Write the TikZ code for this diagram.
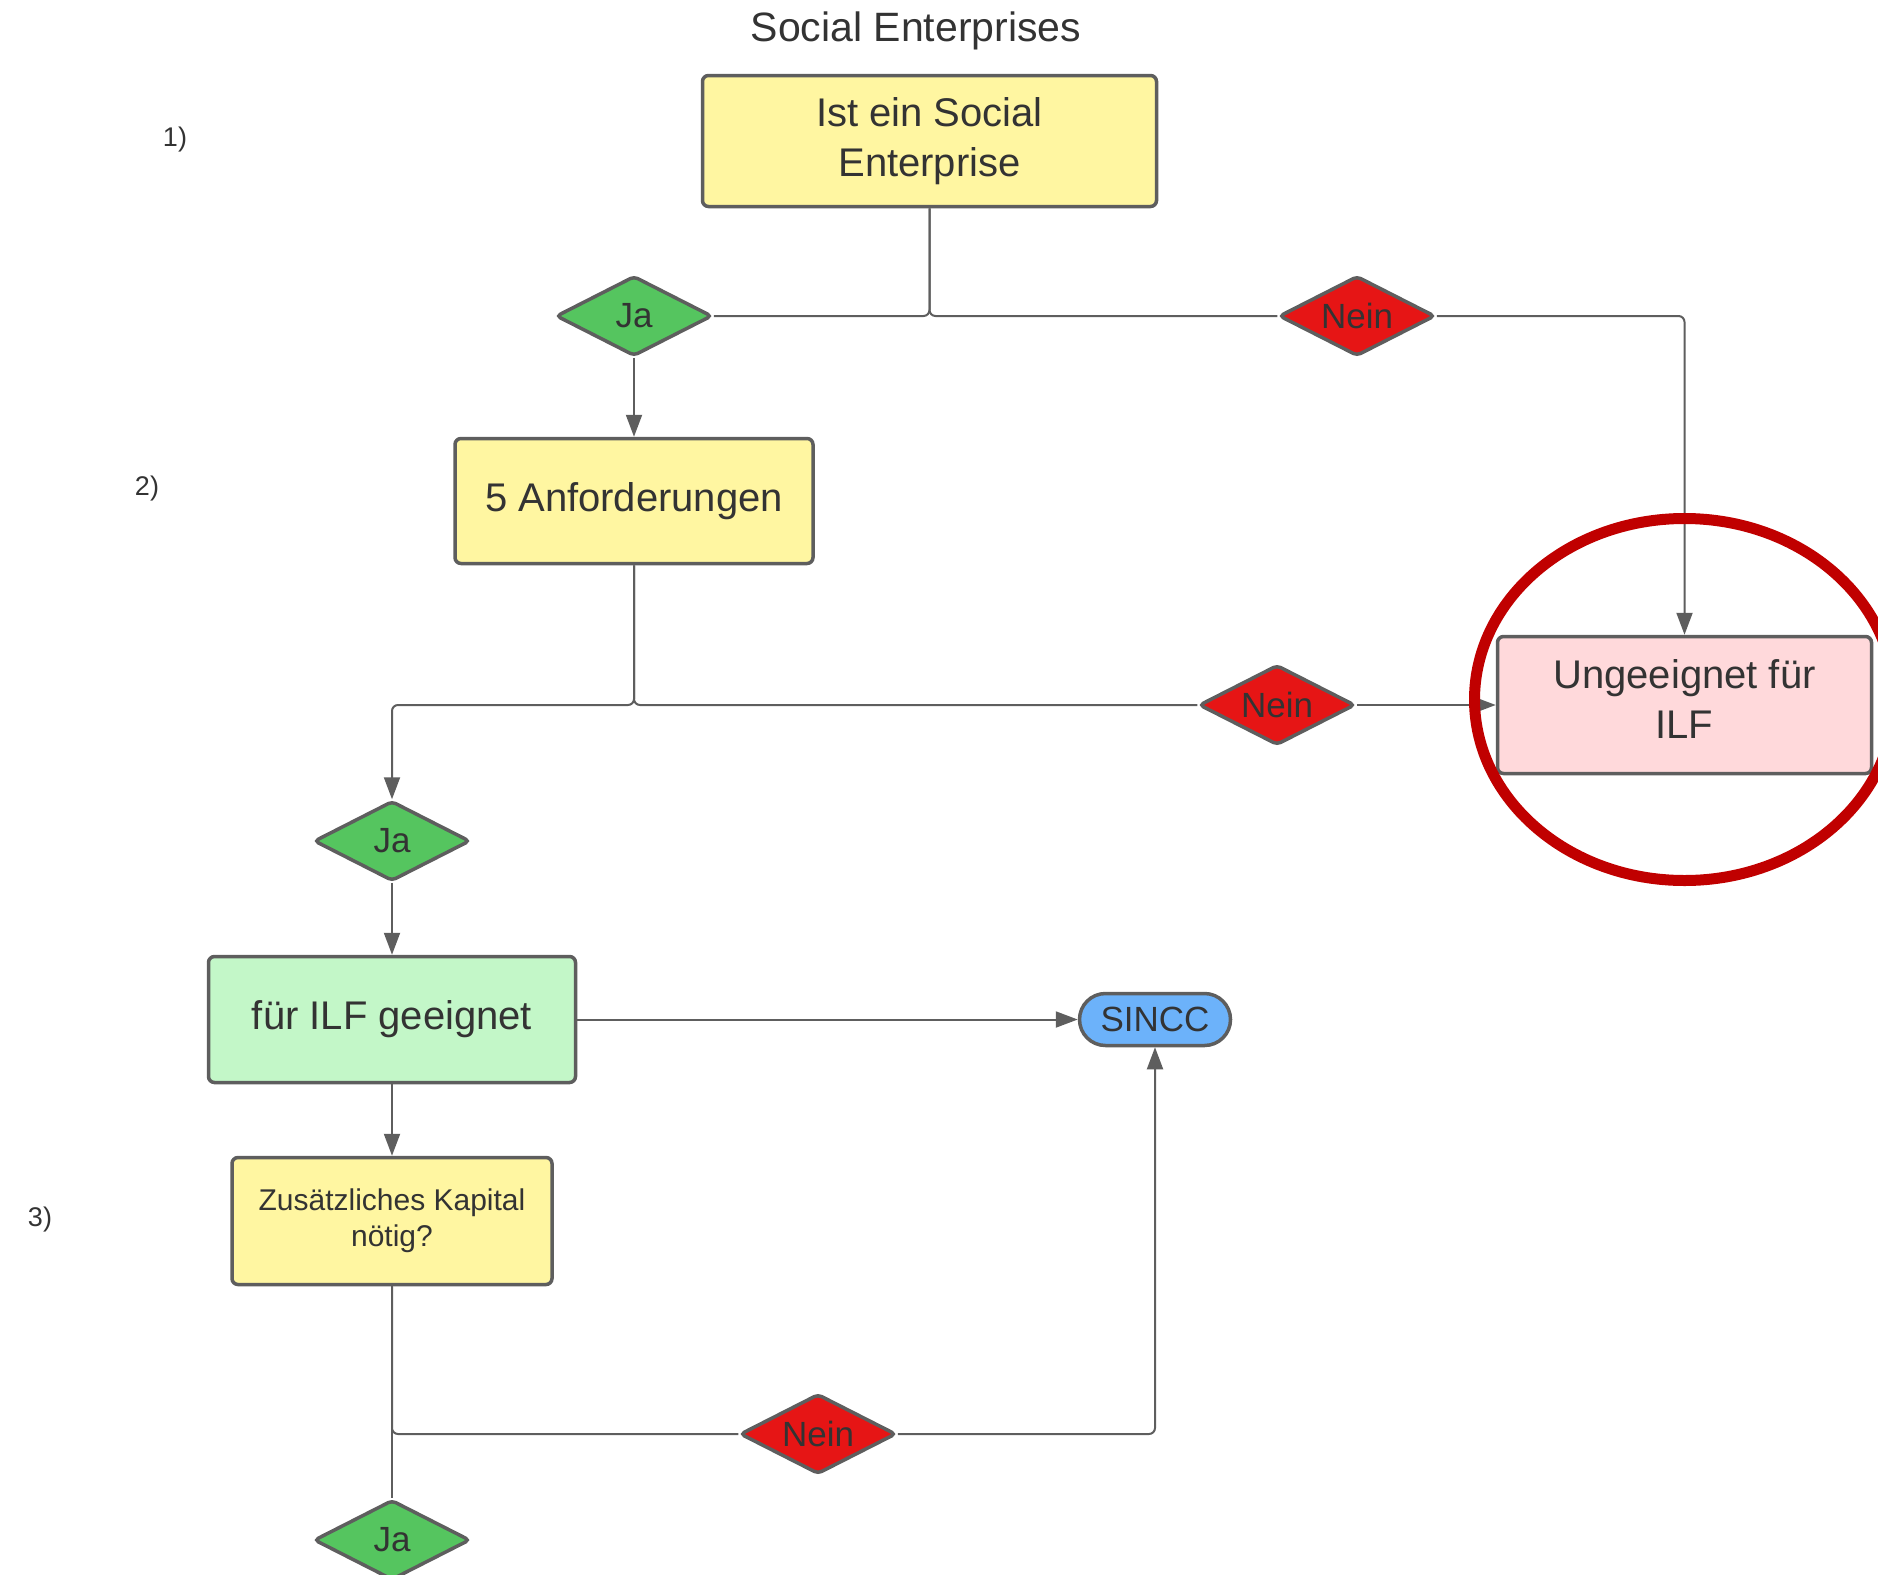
\documentclass[tikz,border=0pt]{standalone}
\usepackage{fontspec}
\setmainfont{Liberation Sans}
\usetikzlibrary{shapes.geometric,arrows.meta}
\definecolor{ln}{HTML}{5E5E5E}
\definecolor{txt}{HTML}{333333}
\definecolor{yel}{HTML}{FFF6A1}
\definecolor{grn}{HTML}{55C55F}
\definecolor{rd}{HTML}{E61515}
\definecolor{lgrn}{HTML}{C3F7C8}
\definecolor{pnk}{HTML}{FFD9DB}
\definecolor{blu}{HTML}{6CB2FA}
\definecolor{circ}{HTML}{C00000}
\begin{document}
\begin{tikzpicture}[x=1pt,y=-1pt,
  box/.style={draw=ln, line width=3.5pt, rounded corners=6pt, text=txt, align=center, inner sep=0pt},
  dia/.style={diamond, draw=ln, line width=3.5pt, rounded corners=4pt, minimum width=156pt, minimum height=80pt, inner sep=0pt, aspect=2, text=txt, font=\fontsize{35}{40}\selectfont},
  con/.style={draw=ln, line width=2pt, rounded corners=6pt},
  arr/.style={con, -{Triangle[length=22pt,width=16pt]}},
  big/.style={font=\fontsize{40}{50}\selectfont},
  lbl/.style={text=txt, font=\fontsize{27}{30}\selectfont}
]
\useasboundingbox (0,0) rectangle (1878,1574);
\clip (0,0) rectangle (1878,1574);

\node[text=txt, font=\fontsize{41}{48}\selectfont] (title) at (916,31) {Social Enterprises};
\node[lbl] (l1) at (175,140) {1)};
\node[lbl] (l2) at (147,489) {2)};
\node[lbl] (l3) at (40,1219) {3)};

\node[box, big, fill=yel, minimum width=454pt, minimum height=131pt] (b1) at (929.5,141) {Ist ein Social\\Enterprise};
\node[dia, fill=grn] (ja1) at (634,316) {Ja};
\node[dia, fill=rd] (n1) at (1357,316) {Nein};
\node[box, big, fill=yel, minimum width=358pt, minimum height=125pt] (b2) at (634,501) {5 Anforderungen};
\node[box, big, fill=pnk, minimum width=374pt, minimum height=137pt] (ung) at (1684.5,705) {Ungeeignet für\\ILF\rule[-12pt]{0pt}{0pt}};
\node[dia, fill=rd] (n2) at (1277,705) {Nein};
\node[dia, fill=grn] (ja2) at (392,841) {Ja};
\node[box, big, fill=lgrn, minimum width=367pt, minimum height=126pt] (b3) at (392,1019.5) {für ILF geeignet};
\node[box, fill=blu, rounded corners=26pt, minimum width=151pt, minimum height=52pt, font=\fontsize{35}{40}\selectfont] (sincc) at (1155,1019.5) {SINCC};
\node[box, fill=yel, minimum width=320pt, minimum height=127pt, font=\fontsize{30}{36}\selectfont] (b4) at (392,1221) {Zusätzliches Kapital\\nötig?};
\node[dia, fill=rd] (n3) at (818,1434) {Nein};
\node[dia, fill=grn] (ja3) at (392,1540) {Ja};

\draw[con] (b1.south) |- (ja1.east);
\draw[con] (b1.south) |- (n1.west);
\draw[arr] (n1.east) -| (ung.north);
\draw[arr] (ja1.south) -- (b2.north);
\draw[con] (b2.south) |- (n2.west);
\draw[arr] (b2.south) |- (ja2.north |- n2.west) -- (ja2.north);
\draw[arr] (n2.east) -- (ung.west);
\draw[arr] (ja2.south) -- (b3.north);
\draw[arr] (b3.east) -- (sincc.west);
\draw[arr] (b3.south) -- (b4.north);
\draw[con] (b4.south) -- (ja3.north);
\draw[con] (b4.south) |- (n3.west);
\draw[arr] (n3.east) -| (sincc.south);

\draw[circ, line width=11pt] (1684.5,699.5) ellipse [x radius=210, y radius=181];
\end{tikzpicture}
\end{document}
